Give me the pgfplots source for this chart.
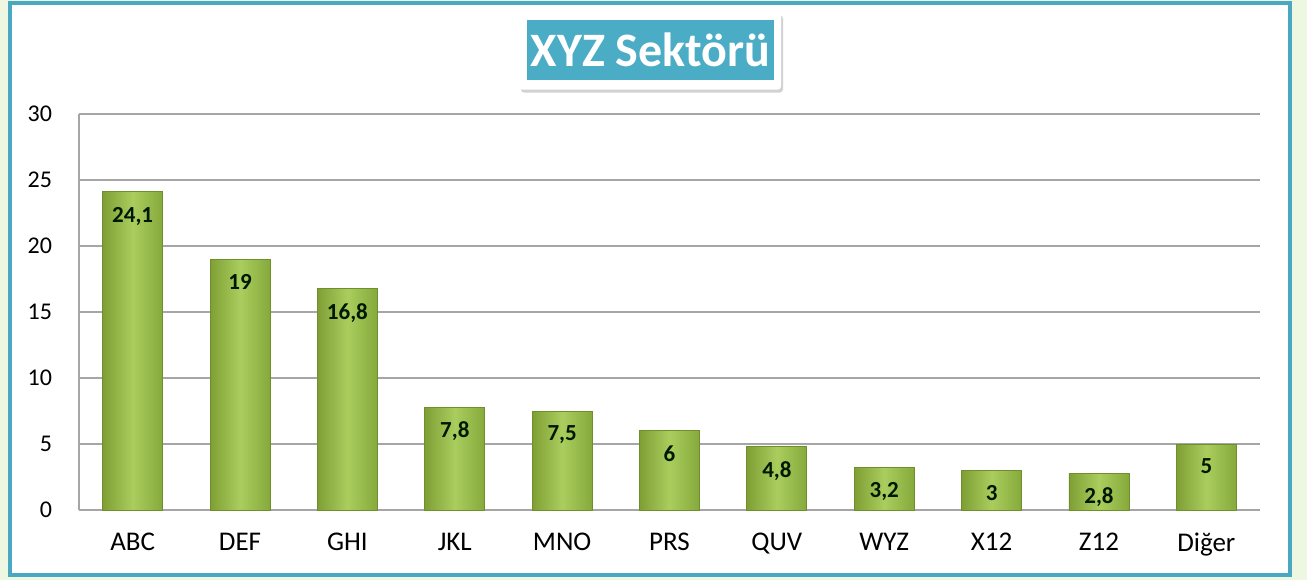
\documentclass[border=0pt]{standalone}
\usepackage{pgfplots}
\pgfplotsset{compat=1.18}
\usepackage{fontspec}
\setmainfont{Carlito}
\usetikzlibrary{shadows}
\definecolor{teal1}{HTML}{4BACC6}
\definecolor{frame}{HTML}{4AA8C2}
\definecolor{pale}{HTML}{EEF7E2}
\definecolor{gA}{HTML}{7F9F34}
\definecolor{gB}{HTML}{AACD5E}
\definecolor{gC}{HTML}{86A93B}
\definecolor{gEdge}{HTML}{6F8F2C}
\definecolor{gridc}{HTML}{A6A6A6}
\begin{document}
\begin{tikzpicture}
\useasboundingbox (0,0) rectangle (653.5pt,290pt);
\fill[pale] (0,0) rectangle (653.5pt,290pt);
\fill[white] (5pt,2.5pt) rectangle (645pt,288.5pt);
\draw[frame, line width=2pt] (5pt,2.5pt) rectangle (645pt,288.5pt);
\begin{axis}[
  at={(39.5pt,35pt)}, anchor=south west,
  scale only axis, width=590.5pt, height=198pt,
  ymin=0, ymax=30, ytick={0,5,...,30},
  xmin=-0.5, xmax=10.5,
  xtick={0,...,10},
  xticklabels={ABC,DEF,GHI,JKL,MNO,PRS,QUV,WYZ,X12,Z12,Diğer},
  axis x line*=bottom, axis y line*=left,
  axis line style={gridc, line width=0.8pt, -},
  ymajorgrids, grid style={gridc, line width=0.8pt},
  major tick length=0pt,
  /pgf/number format/assume math mode=true,
  yticklabel style={font=\fontsize{12}{14}\selectfont, xshift=-10pt},
  xticklabel style={font=\fontsize{13.5}{15}\selectfont, yshift=-8pt},
  ybar, bar width=30pt, bar shift=0pt,
  nodes near coords={\pgfmathprintnumber[use comma, assume math mode=true]{\pgfplotspointmeta}},
  every node near coord/.append style={anchor=north, yshift=-4pt, font=\bfseries\fontsize{11.5}{13}\selectfont, text=black!80!green!50!black},
  barstyle/.style={draw=gEdge, line width=0.4pt, left color=gA, right color=gC, middle color=gB},
]
\addplot[barstyle] coordinates {(0,24.1)};
\addplot[barstyle] coordinates {(1,19)};
\addplot[barstyle] coordinates {(2,16.8)};
\addplot[barstyle] coordinates {(3,7.8)};
\addplot[barstyle] coordinates {(4,7.5)};
\addplot[barstyle] coordinates {(5,6)};
\addplot[barstyle] coordinates {(6,4.8)};
\addplot[barstyle] coordinates {(7,3.2)};
\addplot[barstyle] coordinates {(8,3)};
\addplot[barstyle] coordinates {(9,2.8)};
\addplot[barstyle] coordinates {(10,5)};
\end{axis}
\node[fill=white, drop shadow={shadow xshift=1pt, shadow yshift=-1.5pt, opacity=0.35}, rounded corners=1.5pt, minimum width=131pt, minimum height=38.5pt] at (325pt,264.5pt) {};
\node[fill=teal1, minimum width=123.5pt, minimum height=30pt, inner sep=0pt, text=white, font=\bfseries\fontsize{24}{27}\selectfont] at (325.25pt,265pt) {XYZ Sektörü};
\end{tikzpicture}
\end{document}
